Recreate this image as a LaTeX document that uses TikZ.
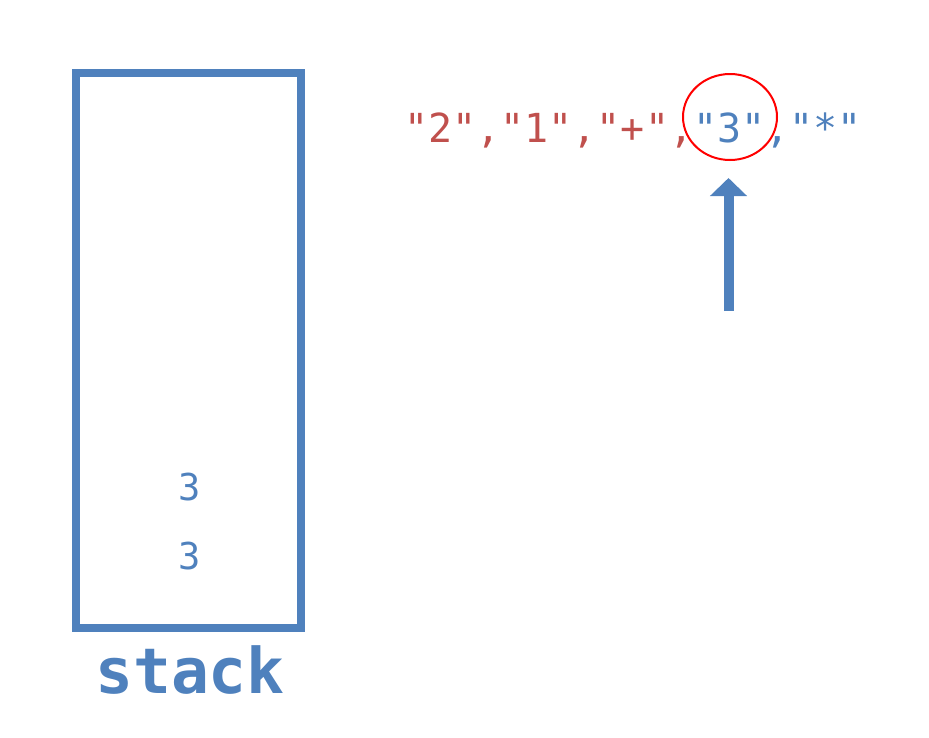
\documentclass[tikz,border=0pt]{standalone}
\usepackage{fontspec}
\newfontfamily\pixfont{DejaVu Sans Mono}
\usetikzlibrary{arrows.meta,shapes.geometric}
\definecolor{tokred}{RGB}{192,80,77}
\definecolor{tokblue}{RGB}{79,129,189}
\definecolor{ringred}{RGB}{255,0,0}
\tikzset{
  stackbox/.style={draw=tokblue, line width=8pt, minimum width=225pt, minimum height=555pt, inner sep=0pt},
  stackitem/.style={text=tokblue, font=\pixfont\fontsize{37}{42}\selectfont, anchor=base, inner sep=0pt},
  stacklabel/.style={text=tokblue, font=\pixfont\bfseries\fontsize{63}{70}\selectfont, anchor=base, inner sep=0pt},
  tokens/.style={font=\pixfont\fontsize{40}{46}\selectfont, anchor=base west, inner sep=0pt},
  ring/.style={draw=ringred, line width=2pt, ellipse, minimum width=94pt, minimum height=86pt, inner sep=0pt},
  pointer/.style={draw=tokblue, line width=10pt, -{Triangle[width=36pt,length=18pt]}}
}
\begin{document}
\begin{tikzpicture}[x=1pt,y=-1pt]
\useasboundingbox (0,0) rectangle (929,737);
\node[stackbox] (stack) at (188.5,350.5) {};
\node[stackitem] (top) at (190,500) {3};
\node[stackitem] (bottom) at (190,569) {3};
\node[stacklabel] (label) at (190,693) {stack};
\node[tokens] (toks) at (404,142) {\textcolor{tokred}{"2","1","+",}\textcolor{tokblue}{"3","*"}};
\node[ring] (ring) at (730,117) {};
\coordinate (tail) at (728.5,311);
\draw[pointer, shorten >=17pt] (tail) -- (tail |- ring.south);
\end{tikzpicture}
\end{document}
